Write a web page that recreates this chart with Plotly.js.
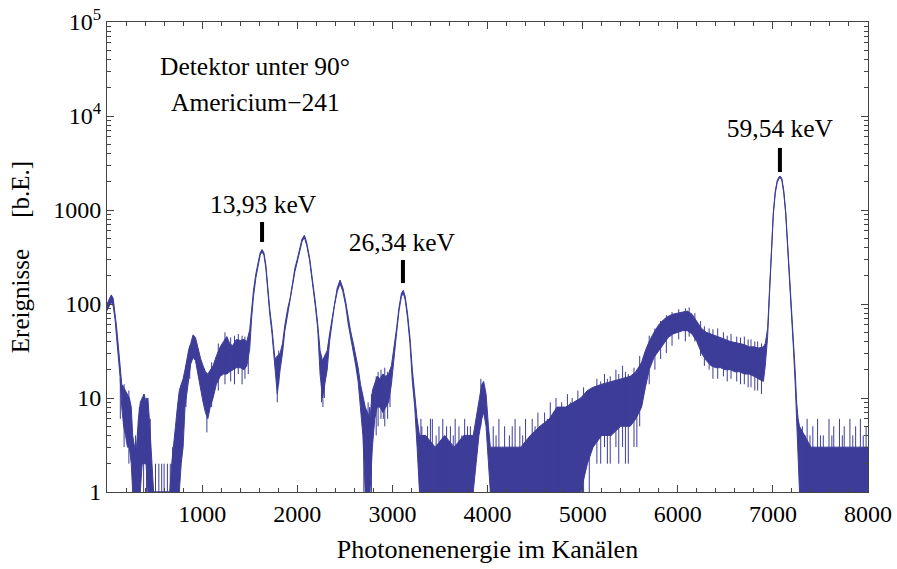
<!DOCTYPE html>
<html>
<head>
<meta charset="utf-8">
<script src="https://cdn.plot.ly/plotly-3.0.1.min.js"></script>
<style>
  html, body { margin: 0; padding: 0; background: #fff; }
  #plot { width: 897px; height: 569px; }
</style>
</head>
<body>
<div id="plot"></div>
<script>
// Am-241 spectrum, detector at 90 degrees: counts per channel (log scale).
// The noisy spectrum is described by its lower and upper envelope per channel.
const channel = [
  0, 20, 45, 65, 85, 100, 120, 137, 155, 175, 195, 215, 235, 255, 270, 290, 310, 330, 350, 370,
  390, 410, 430, 450, 470, 490, 540, 580, 620, 660, 680, 700, 720, 740, 760, 780, 800, 820, 840, 860,
  880, 905, 930, 960, 985, 1010, 1035, 1060, 1085, 1115, 1150, 1190, 1225, 1260, 1290, 1320, 1360, 1400, 1440, 1470,
  1500, 1520, 1540, 1565, 1590, 1610, 1630, 1650, 1670, 1690, 1710, 1735, 1765, 1790, 1820, 1845, 1870, 1900, 1925, 1950,
  1975, 2000, 2025, 2050, 2075, 2100, 2130, 2160, 2190, 2215, 2240, 2265, 2290, 2315, 2340, 2365, 2390, 2420, 2450, 2480,
  2510, 2535, 2560, 2590, 2615, 2640, 2665, 2690, 2715, 2740, 2765, 2790, 2815, 2840, 2870, 2900, 2930, 2960, 2990, 3020,
  3045, 3070, 3095, 3115, 3135, 3160, 3185, 3210, 3235, 3260, 3285, 3350, 3450, 3550, 3650, 3750, 3850, 3880, 3910, 3940,
  3960, 3985, 4010, 4030, 4150, 4250, 4350, 4450, 4550, 4650, 4730, 4820, 4900, 4980, 5050, 5110, 5200, 5300, 5400, 5500,
  5560, 5620, 5660, 5700, 5750, 5800, 5850, 5900, 5950, 6000, 6050, 6100, 6150, 6200, 6250, 6300, 6350, 6400, 6450, 6500,
  6550, 6600, 6650, 6700, 6750, 6800, 6850, 6900, 6920, 6945, 6965, 6985, 7005, 7025, 7045, 7065, 7080, 7095, 7115, 7135,
  7155, 7175, 7195, 7215, 7235, 7250, 7265, 7280, 7400, 7550, 7700, 7850, 8000
];
const countsLow = [
  85, 95, 105, 95, 68, 45, 28, 17, 8, 5, 4, 3, 3, 2, 1, 1, 1, 1, 1, 2,
  2, 2, 1, 1, 1, 1, 1, 1, 1, 1, 1, 1, 1, 1, 1, 2, 3, 8, 12, 18,
  23, 27, 25, 17, 12, 9, 7, 6, 8, 10, 14, 17, 18, 18, 19, 20, 21, 21, 20, 22,
  33, 70, 120, 190, 265, 330, 360, 330, 240, 125, 80, 48, 20, 11, 20, 30, 52, 80, 105, 150,
  220, 280, 350, 460, 510, 420, 290, 175, 95, 55, 18, 10, 14, 20, 40, 62, 95, 135, 165, 135,
  95, 62, 45, 32, 22, 15, 8, 4, 1, 1, 1, 3, 6, 8, 8, 7, 8, 9, 14, 30,
  50, 85, 120, 130, 110, 70, 38, 15, 8, 3, 1, 1, 1, 1, 1, 1, 1, 2, 4, 6,
  7, 5, 2, 1, 1, 1, 1, 1, 1, 1, 1, 1, 1, 1, 2, 3, 4, 4, 5, 5,
  6, 8, 13, 20, 27, 32, 38, 44, 48, 50, 52, 52, 48, 40, 30, 25, 22, 21, 21, 20,
  20, 19, 19, 18, 18, 17, 16, 15, 22, 45, 130, 400, 900, 1500, 1950, 2180, 2200, 2050, 1500, 900,
  430, 180, 75, 35, 14, 5, 2, 1, 1, 1, 1, 1, 1
];
const countsHigh = [
  100, 112, 125, 115, 82, 58, 35, 22, 14, 13, 12, 11, 10, 8, 4, 3, 3, 6, 9, 10,
  11, 9, 10, 5, 2, 1, 1, 1, 1, 1, 2, 3, 5, 8, 12, 14, 16, 20, 27, 33,
  38, 47, 44, 32, 26, 22, 19, 18, 20, 22, 28, 35, 40, 45, 38, 36, 42, 41, 42, 40,
  53, 90, 140, 210, 285, 350, 380, 350, 260, 140, 90, 55, 26, 28, 30, 38, 60, 90, 115, 165,
  240, 300, 375, 490, 540, 450, 310, 190, 105, 62, 32, 25, 28, 32, 48, 70, 105, 148, 180, 148,
  105, 70, 52, 38, 28, 21, 14, 11, 8, 7, 6, 12, 14, 17, 16, 18, 17, 18, 22, 35,
  56, 92, 130, 140, 120, 78, 44, 20, 11, 6, 4, 4, 3, 4, 3, 4, 4, 6, 10, 14,
  15, 11, 5, 3, 3, 3, 3, 4, 5, 6, 8, 8, 9, 10, 12, 13, 14, 15, 16, 17,
  19, 24, 32, 40, 50, 60, 68, 74, 78, 80, 82, 84, 78, 65, 55, 50, 48, 46, 44, 42,
  40, 39, 38, 37, 35, 35, 34, 35, 38, 55, 145, 430, 950, 1580, 2050, 2260, 2280, 2150, 1600, 960,
  460, 200, 85, 42, 19, 9, 6, 5, 3, 3, 3, 3, 3
];

// Single-channel outliers: channel, lowest and highest count reached
const spikeChannel = [
  140, 180, 230, 300, 340, 385, 415, 455, 510, 545, 575, 600, 635, 665, 690,
  830, 870, 1050, 1100, 1170, 1240, 1300, 1340, 1380, 1420, 1450, 1485, 1790, 1805, 2255, 2270, 2285,
  2700, 2720, 2745, 2760, 2780, 2830, 2850, 2880, 2905, 2920, 2950, 2975,
  3300, 3310, 3340, 3370, 3400, 3420, 3460, 3490, 3530, 3570, 3610, 3640, 3660, 3700, 3730, 3760, 3790, 3820, 3930,
  4060, 4090, 4120, 4180, 4230, 4260, 4290, 4340, 4370, 4400, 4470, 4500, 4530, 4600, 4630, 4660, 4720, 4750, 4780,
  4840, 4870, 4890, 4950, 4985, 5010, 5070,
  5150, 5190, 5230, 5260, 5290, 5350, 5380, 5420, 5450, 5480, 5540, 5570, 5600,
  5700, 5760, 5820, 5880, 5940, 6010, 6080, 6120, 6180, 6240, 6280, 6330, 6370, 6420, 6480, 6520, 6560, 6620,
  6660, 6700, 6740, 6770, 6810, 6840, 6880,
  7310, 7340, 7360, 7390, 7420, 7470, 7500, 7530, 7590, 7620, 7640, 7700, 7730, 7750, 7810, 7840, 7870, 7920, 7950, 7980
];
const spikeLow = [
  6, 3, 2, 1, 1, 1, 1, 1, 1, 1, 1, 1, 1, 1, 1,
  8, 16, 4.3, 8, 12, 14, 15, 14, 18, 14, 16, 18, 9, 14, 9, 8, 10,
  1, 1, 1, 1, 1, 4, 5, 6, 6, 5, 6, 8,
  1, 1, 1, 1, 1, 1, 1, 1, 1, 1, 1, 1, 1, 1, 1, 1, 1, 1, 5,
  1, 1, 1, 1, 1, 1, 1, 1, 1, 1, 1, 1, 1, 1, 1, 1, 1, 1, 1,
  1, 1, 1, 1, 1, 1, 1,
  2, 2, 3, 2, 2, 3, 2, 3, 2, 2, 3, 3, 5,
  14, 20, 26, 30, 36, 42, 40, 45, 40, 28, 22, 20, 16, 16, 17, 15, 16, 15,
  14, 14, 13, 13, 12, 12, 11,
  1, 1, 1, 1, 1, 1, 1, 1, 1, 1, 1, 1, 1, 1, 1, 1, 1, 1, 1, 1
];
const spikeHigh = [
  16, 14, 12, 4, 8, 11, 10, 6, 2, 2, 2, 2, 2, 2, 3,
  22, 36, 10, 24, 38, 50, 44, 46, 48, 46, 45, 44, 20, 32, 20, 20, 24,
  9, 6, 9, 8, 11, 17, 19, 20, 17, 21, 19, 20,
  6, 5, 4, 5, 6, 6, 4, 5, 6, 5, 5, 4, 6, 5, 4, 6, 5, 5, 16,
  5, 4, 6, 5, 4, 5, 6, 5, 4, 6, 6, 5, 7, 7, 6, 9, 10, 8, 9,
  11, 9, 10, 12, 10, 13, 12,
  16, 15, 18, 16, 17, 20, 18, 22, 19, 18, 21, 20, 28,
  46, 55, 66, 76, 82, 88, 90, 92, 80, 66, 58, 55, 54, 55, 50, 46, 48, 45,
  44, 45, 42, 42, 40, 40, 38,
  5, 4, 6, 4, 5, 6, 4, 4, 6, 4, 5, 6, 4, 5, 6, 4, 5, 6, 4, 5
];

// Labelled photo peaks
const peakChannel = [1630, 3111, 7074];
const peakLabel = ['13,93 keV', '26,34 keV', '59,54 keV'];

const blue = 'rgb(61,61,153)';
const FONT = 'Liberation Serif';

// vertical outlier segments
const sx = [], sy = [];
spikeChannel.forEach((c, i) => {
  sx.push(c, c, null);
  sy.push(spikeLow[i], spikeHigh[i], null);
});

// peak markers: short bars above each peak, labels above the bars
const markBottom = [457, 167, 2537];
const markTop = [745, 294, 4571];
const labelAt = [1076, 424, 6925];
const labelChannel = [1640, 3100, 7074];
const mx = [], my = [];
peakChannel.forEach((c, i) => {
  mx.push(c, c, null);
  my.push(markBottom[i], markTop[i], null);
});

const traces = [
  { x: channel, y: countsLow, type: 'scatter', mode: 'lines',
    line: { color: blue, width: 1 }, hoverinfo: 'skip' },
  { x: channel, y: countsHigh, type: 'scatter', mode: 'lines', fill: 'tonexty',
    fillcolor: blue, line: { color: blue, width: 1 }, hoverinfo: 'skip' },
  { x: sx, y: sy, type: 'scatter', mode: 'lines',
    line: { color: blue, width: 1 }, hoverinfo: 'skip' },
  { x: mx, y: my, type: 'scatter', mode: 'lines',
    line: { color: '#000', width: 4 }, hoverinfo: 'skip' },
  { x: labelChannel, y: labelAt, type: 'scatter', mode: 'text', text: peakLabel,
    textposition: 'middle center',
    textfont: { family: FONT, size: 25.5, color: '#000' }, hoverinfo: 'skip' }
];

const layout = {
  width: 897, height: 569,
  margin: { l: 107, r: 29, t: 22, b: 77 },
  paper_bgcolor: '#fff', plot_bgcolor: '#fff',
  showlegend: false,
  font: { family: FONT, size: 24, color: '#000' },
  xaxis: {
    range: [0, 8000],
    tickvals: [1000, 2000, 3000, 4000, 5000, 6000, 7000, 8000],
    ticks: 'inside', ticklen: 7, tickwidth: 1, tickcolor: '#444',
    minor: { dtick: 200, tick0: 0, ticks: 'inside', ticklen: 4, tickcolor: '#444', showgrid: false },
    showline: true, linecolor: '#444', linewidth: 1, mirror: 'allticks',
    showgrid: false, zeroline: false,
    tickfont: { family: FONT, size: 24, color: '#000' },
    title: { text: 'Photonenenergie im Kanälen', standoff: 14,
             font: { family: FONT, size: 26, color: '#000' } }
  },
  yaxis: {
    type: 'log', range: [0, 5],
    tickvals: [1, 10, 100, 1000, 10000, 100000],
    ticktext: ['1', '10', '100', '1000', '10<sup>4</sup>', '10<sup>5</sup>'],
    ticks: 'inside', ticklen: 7, tickwidth: 1, tickcolor: '#444',
    minor: { dtick: 'D1', ticks: 'inside', ticklen: 4, tickcolor: '#444', showgrid: false },
    showline: true, linecolor: '#444', linewidth: 1, mirror: 'allticks',
    showgrid: false, zeroline: false,
    tickfont: { family: FONT, size: 24, color: '#000' },
    title: { text: 'Ereignisse\u00a0\u00a0\u00a0\u00a0\u00a0[b.E.]', standoff: 16,
             font: { family: FONT, size: 25, color: '#000' } }
  },
  annotations: [
    { xref: 'paper', yref: 'paper', x: 0.1945, y: 0.906, xanchor: 'center', yanchor: 'middle',
      showarrow: false, text: 'Detektor unter 90°', font: { family: FONT, size: 25.5, color: '#000' } },
    { xref: 'paper', yref: 'paper', x: 0.1945, y: 0.828, xanchor: 'center', yanchor: 'middle',
      showarrow: false, text: 'Americium\u2212241', font: { family: FONT, size: 25.5, color: '#000' } }
  ]
};

Plotly.newPlot('plot', traces, layout, { displayModeBar: false });
</script>
</body>
</html>
